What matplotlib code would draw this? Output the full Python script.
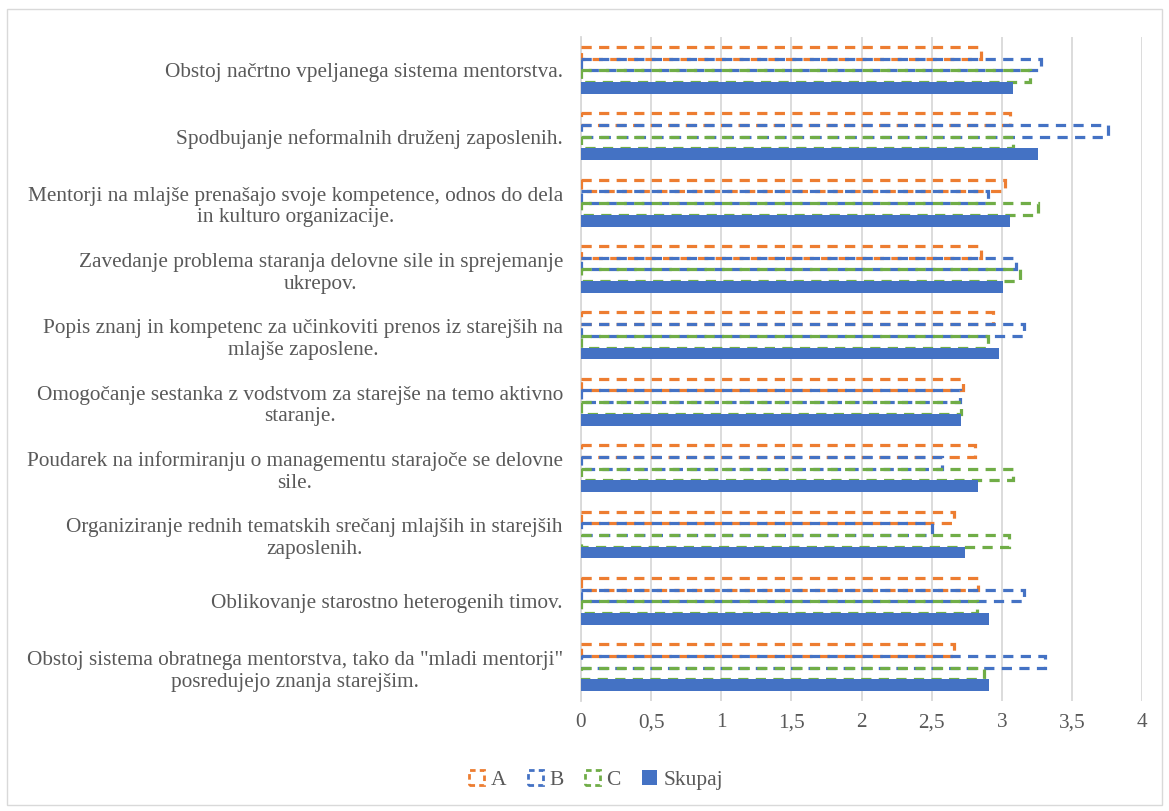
import matplotlib.pyplot as plt
from matplotlib.patches import Patch, Rectangle
from matplotlib.ticker import FuncFormatter, MultipleLocator

categories = [
    "Obstoj načrtno vpeljanega sistema mentorstva.",
    "Spodbujanje neformalnih druženj zaposlenih.",
    "Mentorji na mlajše prenašajo svoje kompetence, odnos do dela\nin kulturo organizacije.",
    "Zavedanje problema staranja delovne sile in sprejemanje\nukrepov.",
    "Popis znanj in kompetenc za učinkoviti prenos iz starejših na\nmlajše zaposlene.",
    "Omogočanje sestanka z vodstvom za starejše na temo aktivno\nstaranje.",
    "Poudarek na informiranju o managementu starajoče se delovne\nsile.",
    "Organiziranje rednih tematskih srečanj mlajših in starejših\nzaposlenih.",
    "Oblikovanje starostno heterogenih timov.",
    "Obstoj sistema obratnega mentorstva, tako da \"mladi mentorji\"\nposredujejo znanja starejšim.",
]
vals_a = [2.85, 3.06, 3.02, 2.85, 2.94, 2.72, 2.81, 2.66, 2.83, 2.66]
vals_b = [3.28, 3.76, 2.90, 3.10, 3.16, 2.70, 2.57, 2.50, 3.16, 3.31]
vals_c = [3.20, 3.08, 3.26, 3.13, 2.90, 2.71, 3.08, 3.05, 2.82, 2.87]
vals_skupaj = [3.08, 3.26, 3.06, 3.01, 2.98, 2.71, 2.83, 2.74, 2.91, 2.91]

series = [("A", vals_a, "#ED7D31"), ("B", vals_b, "#4472C4"), ("C", vals_c, "#70AD47")]
blue = "#4472C4"
grey = "#595959"

plt.rcParams["font.family"] = ["Liberation Serif", "DejaVu Serif"]

fig = plt.figure(figsize=(11.69, 8.11), dpi=100)
ax = fig.add_axes([0.497, 0.136, 0.480, 0.818])

w = 0.176
ypos = list(range(len(categories)))
dash = (0, (3.2, 2.3))
for k, (name, vals, col) in enumerate(series):
    ax.barh([y + (k - 1.5) * w for y in ypos], vals, height=w,
            facecolor="none", edgecolor=col, linewidth=2.3, linestyle=dash, zorder=3)
ax.barh([y + 1.5 * w for y in ypos], vals_skupaj, height=w,
        color=blue, edgecolor="none", zorder=3)

ax.set_xlim(0, 4)
ax.set_ylim(len(categories) - 0.5, -0.5)
ax.xaxis.set_major_locator(MultipleLocator(0.5))
ax.xaxis.set_major_formatter(FuncFormatter(lambda v, p: f"{v:g}".replace(".", ",")))
ax.grid(axis="x", color="#d9d9d9", linewidth=1.3, zorder=0)
ax.set_yticks(ypos)
ax.set_yticklabels(categories, multialignment="center")
ax.tick_params(axis="both", length=0, labelsize=15.3, colors=grey)
ax.tick_params(axis="x", pad=9)
ax.tick_params(axis="y", pad=13)
for s in ["top", "right", "bottom"]:
    ax.spines[s].set_visible(False)
ax.spines["left"].set_color("#d9d9d9")
ax.spines["left"].set_linewidth(1.3)

handles = [Patch(facecolor="none", edgecolor=col, linestyle=(0, (2, 1.5)), linewidth=2.0, label=name)
           for name, vals, col in series]
handles.append(Patch(facecolor=blue, edgecolor="none", label="Skupaj"))
fig.legend(handles=handles, loc="center", bbox_to_anchor=(0.51, 0.038), ncol=4, frameon=False,
           fontsize=15.5, labelcolor=grey, handlelength=0.7, handleheight=0.7,
           handletextpad=0.3, columnspacing=1.0)

fig.patches.append(Rectangle((0.006, 0.007), 0.988, 0.982, transform=fig.transFigure,
                             facecolor="none", edgecolor="#d9d9d9", linewidth=1))

plt.savefig("out.png", dpi=100)
